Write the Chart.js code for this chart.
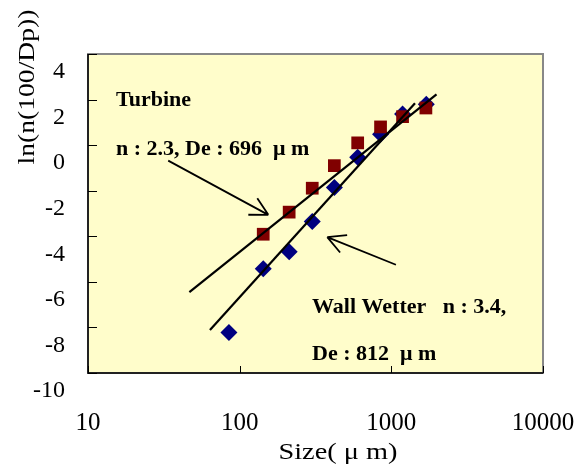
<!DOCTYPE html>
<html>
<head>
<meta charset="utf-8">
<script src="https://cdn.jsdelivr.net/npm/chart.js@4.4.1/dist/chart.umd.min.js"></script>
<style>
  html, body { margin: 0; padding: 0; background: #fff; }
</style>
</head>
<body>
<canvas id="chart" width="583" height="466"></canvas>
<script>
// measured points, size in um vs ln(ln(100/R))
const turbineSizes = [143, 212, 301, 421, 600, 849, 1186, 1690];
const turbineVals = [-3.91, -2.94, -1.89, -0.90, 0.10, 0.80, 1.25, 1.63];
const wallSizes = [85, 143, 212, 301, 421, 600, 849, 1186, 1700];
const wallVals = [-8.22, -5.42, -4.68, -3.35, -1.86, -0.53, 0.48, 1.37, 1.79];

// fitted lines (end points)
const turbineFitX = [46.6, 1986];
const turbineFitY = [-6.45, 2.23];
const wallFitX = [63.7, 1432];
const wallFitY = [-8.11, 1.84];

const xTicks = [10, 100, 1000, 10000];
const yTicks = [-10, -8, -6, -4, -2, 0, 2, 4];

const pts = (xs, ys) => xs.map((x, i) => ({ x: x, y: ys[i] }));

const serif = '"Liberation Serif", "Times New Roman", serif';

function arrow(ctx, x0, y0, x1, y1) {
  const ang = Math.atan2(y1 - y0, x1 - x0);
  ctx.beginPath();
  ctx.moveTo(x0, y0);
  ctx.lineTo(x1, y1);
  for (const d of [-0.49, 0.49]) {
    ctx.moveTo(x1, y1);
    ctx.lineTo(x1 - 20 * Math.cos(ang + d), y1 - 20 * Math.sin(ang + d));
  }
  ctx.stroke();
}

function fitText(ctx, txt, x, y, w, rot) {
  ctx.save();
  ctx.translate(x, y);
  if (rot) ctx.rotate(rot);
  const m = ctx.measureText(txt).width;
  ctx.scale(w / m, 1);
  ctx.textAlign = 'center';
  ctx.textBaseline = 'middle';
  ctx.fillText(txt, 0, 0);
  ctx.restore();
}

function noPad(s) {
  s.paddingLeft = 0;
  s.paddingRight = 0;
  s.paddingTop = 0;
  s.paddingBottom = 0;
}

const decor = {
  id: 'decor',
  beforeDatasetsDraw(chart) {
    const { ctx, chartArea: a } = chart;
    ctx.save();
    ctx.fillStyle = '#FFFDCB';
    ctx.fillRect(a.left, a.top, a.width, a.height);
    ctx.restore();
  },
  afterDatasetsDraw(chart) {
    const { ctx, chartArea: a, scales } = chart;
    ctx.save();
    ctx.strokeStyle = '#888';
    ctx.lineWidth = 2;
    ctx.strokeRect(a.left, a.top, a.width, a.height);
    ctx.strokeStyle = '#000';
    ctx.lineWidth = 1.5;
    ctx.beginPath();
    ctx.moveTo(a.left, a.top);
    ctx.lineTo(a.left, a.bottom);
    ctx.lineTo(a.right, a.bottom);
    ctx.stroke();
    // inward tick marks
    ctx.lineWidth = 1;
    ctx.beginPath();
    yTicks.forEach(v => {
      const py = Math.round(scales.y.getPixelForValue(v)) + 0.5;
      ctx.moveTo(a.left, py);
      ctx.lineTo(a.left + 9, py);
    });
    xTicks.forEach(v => {
      const px = Math.round(scales.x.getPixelForValue(v)) + 0.5;
      ctx.moveTo(px, a.bottom);
      ctx.lineTo(px, a.bottom - 7);
    });
    ctx.stroke();
    ctx.restore();
  },
  afterDraw(chart) {
    const { ctx, chartArea: a, scales } = chart;
    const X = v => scales.x.getPixelForValue(v);
    const Y = v => scales.y.getPixelForValue(v);
    ctx.save();
    ctx.fillStyle = '#000';
    ctx.strokeStyle = '#000';

    // axis titles
    ctx.font = '23px ' + serif;
    fitText(ctx, 'Size( \u03bc m)', a.left + 250, 453, 119, 0);
    fitText(ctx, 'ln(n(100/Dp))', 28, 87, 155, -Math.PI / 2);

    // annotations
    ctx.font = 'bold 22px ' + serif;
    ctx.textAlign = 'left';
    ctx.textBaseline = 'middle';
    ctx.fillText('Turbine', X(15.3), Y(1.96));
    ctx.fillText('n : 2.3, De : 696  \u03bc m', X(15.3), Y(-0.17));
    ctx.fillText('Wall Wetter   n : 3.4,', X(300), Y(-7.10));
    ctx.fillText('De : 812  \u03bc m', X(300), Y(-9.20));

    ctx.lineWidth = 1.8;
    arrow(ctx, X(33.8), Y(-0.68), X(154.5), Y(-3.06));
    arrow(ctx, X(1072), Y(-5.25), X(378), Y(-4.04));
    ctx.restore();
  }
};

new Chart(document.getElementById('chart'), {
  type: 'scatter',
  data: {
    datasets: [
      {
        label: 'Turbine fit',
        type: 'line',
        data: pts(turbineFitX, turbineFitY),
        borderColor: '#000',
        borderWidth: 2.2,
        pointRadius: 0,
        fill: false,
        order: 0
      },
      {
        label: 'Wall Wetter fit',
        type: 'line',
        data: pts(wallFitX, wallFitY),
        borderColor: '#000',
        borderWidth: 2.2,
        pointRadius: 0,
        fill: false,
        order: 0
      },
      {
        label: 'Turbine',
        data: pts(turbineSizes, turbineVals),
        pointStyle: 'rect',
        pointRadius: 9,
        backgroundColor: '#800000',
        borderColor: '#800000',
        borderWidth: 0,
        order: 1
      },
      {
        label: 'Wall Wetter',
        data: pts(wallSizes, wallVals),
        pointStyle: 'rectRot',
        pointRadius: 8.5,
        backgroundColor: '#000080',
        borderColor: '#000080',
        borderWidth: 0,
        order: 2
      }
    ]
  },
  options: {
    responsive: false,
    animation: false,
    events: [],
    layout: { padding: { top: 54, right: 40, left: 0, bottom: 0 } },
    plugins: {
      legend: { display: false },
      tooltip: { enabled: false }
    },
    scales: {
      x: {
        type: 'logarithmic',
        min: 10,
        max: 10000,
        afterBuildTicks: s => { s.ticks = xTicks.map(v => ({ value: v })); },
        afterFit: s => { s.height = 93; noPad(s); },
        grid: { display: false, drawTicks: false },
        border: { display: false },
        ticks: {
          color: '#000',
          font: { family: serif, size: 25 },
          padding: 35,
          maxRotation: 0,
          autoSkip: false,
          callback: v => String(v)
        }
      },
      y: {
        min: -10,
        max: 4,
        afterBuildTicks: s => { s.ticks = yTicks.map(v => ({ value: v })); },
        afterFit: s => { s.width = 88; noPad(s); },
        grid: { display: false, drawTicks: false },
        border: { display: false },
        ticks: {
          color: '#000',
          font: { family: serif, size: 24 },
          padding: 23,
          labelOffset: 18,
          callback: v => String(v)
        }
      }
    }
  },
  plugins: [decor]
});
</script>
</body>
</html>
